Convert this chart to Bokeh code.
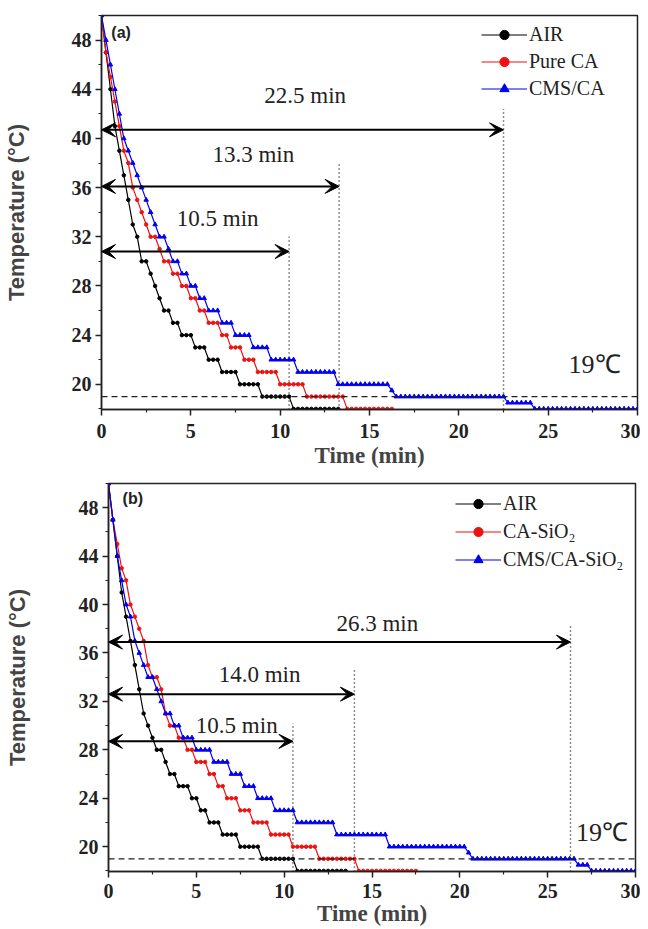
from bokeh.plotting import figure
from bokeh.models import (ColumnDataSource, Range1d, FixedTicker, Arrow, VeeHead,
                          Legend, LegendItem, Span)
from bokeh.layouts import column
from bokeh.embed import file_html
from bokeh.resources import INLINE
from bokeh.core.properties import value

# ---------------- data ----------------
SAMPLE_MIN = 0.25  # one reading every 15 s

# panel (a)
AIR_A = [50, 47, 44, 41, 39, 37, 35, 33, 32, 30,
         30, 29, 28, 27, 26, 26, 25, 25, 24, 24,
         24, 23, 23, 23, 22, 22, 22, 21, 21, 21,
         21, 20, 20, 20, 20, 20, 19, 19, 19, 19,
         19, 19, 19, 18, 18, 18, 18, 18, 18, 18,
         18, 18, 18, 18]
PURE_CA_A = [50, 47, 45, 43, 41, 39, 38, 36, 35, 34,
             33, 32, 32, 31, 30, 30, 29, 29, 28, 28,
             27, 27, 26, 26, 25, 25, 25, 24, 24, 23,
             23, 23, 22, 22, 22, 21, 21, 21, 21, 21,
             20, 20, 20, 20, 20, 20, 19, 19, 19, 19,
             19, 19, 19, 19, 19, 18, 18, 18, 18, 18,
             18, 18, 18, 18, 18, 18]
CMS_CA_A = [50, 48, 46, 44, 42, 40, 39, 38, 37, 36,
            35, 34, 33, 32, 32, 31, 30, 30, 29, 29,
            28, 28, 27, 27, 26, 26, 26, 25, 25, 25,
            24, 24, 24, 24, 23, 23, 23, 23, 22, 22,
            22, 22, 22, 22, 21, 21, 21, 21, 21, 21,
            21, 21, 21, 20, 20, 20, 20, 20, 20, 20,
            20, 20, 20, 20, 20, 19.5, 19, 19, 19, 19,
            19, 19, 19, 19, 19, 19, 19, 19, 19, 19,
            19, 19, 19, 19, 19, 19, 19, 19, 19, 19,
            19, 18.5, 18.5, 18.5, 18.5, 18.5, 18.5, 18, 18, 18,
            18, 18, 18, 18, 18, 18, 18, 18, 18, 18,
            18, 18, 18, 18, 18, 18, 18, 18, 18, 18,
            18]

# panel (b)
AIR_B = [50, 47, 44, 41, 39, 37, 35, 33, 31, 30,
         29, 28, 28, 27, 26, 26, 25, 25, 25, 24,
         24, 23, 23, 22, 22, 22, 21, 21, 21, 21,
         20, 20, 20, 20, 20, 19, 19, 19, 19, 19,
         19, 19, 19, 18, 18, 18, 18, 18, 18, 18,
         18, 18, 18, 18, 18]
CA_SIO2_B = [50, 47, 45, 43, 42, 40, 39, 38, 37, 35,
             34, 34, 33, 31, 30, 30, 29, 29, 28, 28,
             27, 27, 27, 26, 26, 25, 25, 24, 24, 24,
             23, 23, 23, 22, 22, 22, 22, 21, 21, 21,
             21, 21, 20, 20, 20, 20, 20, 20, 19, 19,
             19, 19, 19, 19, 19, 19, 19, 18, 18, 18,
             18, 18, 18, 18, 18, 18, 18, 18, 18, 18,
             18]
CMS_CA_SIO2_B = [50, 47, 44, 42, 40, 39, 37, 36, 35, 34,
                 34, 33, 32, 31, 31, 30, 30, 29, 29, 29,
                 28, 28, 28, 28, 27, 27, 27, 27, 26, 26,
                 26, 25, 25, 25, 24, 24, 24, 24, 23, 23,
                 23, 23, 23, 22, 22, 22, 22, 22, 22, 22,
                 22, 22, 21, 21, 21, 21, 21, 21, 21, 21,
                 21, 21, 21, 21, 20, 20, 20, 20, 20, 20,
                 20, 20, 20, 20, 20, 20, 20, 20, 20, 20,
                 20, 20, 19.5, 19, 19, 19, 19, 19, 19, 19,
                 19, 19, 19, 19, 19, 19, 19, 19, 19, 19,
                 19, 19, 19, 19, 19, 19, 19, 18.5, 18.5, 18.5,
                 18, 18, 18, 18, 18, 18, 18, 18, 18, 18,
                 18]

X_TICKS = [0, 5, 10, 15, 20, 25, 30]
X_MINOR = [2.5, 7.5, 12.5, 17.5, 22.5, 27.5]
Y_TICKS = [20, 24, 28, 32, 36, 40, 44, 48]
Y_MINOR = [18, 22, 26, 30, 34, 38, 42, 46, 50]
THRESHOLD_C = 19

# annotations panel (a)
A_DURATION = [10.5, 13.3, 22.5]
A_ARROW_Y = [30.8, 36.1, 40.7]
A_DOT_TOP = [32.0, 38.0, 42.4]
A_LABEL = ["10.5 min", "13.3 min", "22.5 min"]
A_LABEL_X = [6.5, 8.5, 11.4]
A_LABEL_Y = [33.5, 38.7, 43.5]

# annotations panel (b)
B_DURATION = [10.5, 14.0, 26.3]
B_ARROW_Y = [28.7, 32.6, 36.9]
B_DOT_TOP = [30.2, 34.6, 38.2]
B_LABEL = ["10.5 min", "14.0 min", "26.3 min"]
B_LABEL_X = [7.3, 8.6, 15.3]
B_LABEL_Y = [30.0, 34.2, 38.4]

SERIES_A = [("AIR", AIR_A), ("Pure CA", PURE_CA_A), ("CMS/CA", CMS_CA_A)]
SERIES_B = [("AIR", AIR_B), ("CA-SiO\u2082", CA_SIO2_B), ("CMS/CA-SiO\u2082", CMS_CA_SIO2_B)]
COLORS = ["#000000", "#ee1111", "#0000ee"]
MARKERS = ["circle", "circle", "triangle"]

SERIF = "Liberation Serif"
SANS = "Liberation Sans"


def make_panel(series, dur, arrow_y, dot_top, labels, lab_x, lab_y, tag, tag_x, tag_y,
               deg_x, deg_y, width, height, borders, legend_xy, legend_spacing,
               label_standoff, title_standoff, ylabel_standoff):
    p = figure(width=width, height=height, output_backend="svg", toolbar_location=None,
               x_range=Range1d(0, 30), y_range=Range1d(17.95, 50),
               min_border_left=borders[0], min_border_right=borders[1],
               min_border_top=borders[2], min_border_bottom=borders[3])
    p.grid.visible = False
    p.outline_line_color = "#222222"
    p.outline_line_width = 1.5
    p.background_fill_color = "white"
    p.border_fill_color = "white"

    p.xaxis.ticker = FixedTicker(ticks=X_TICKS, minor_ticks=X_MINOR)
    p.yaxis.ticker = FixedTicker(ticks=Y_TICKS, minor_ticks=Y_MINOR)
    for ax in (p.xaxis[0], p.yaxis[0]):
        ax.axis_line_width = 1.5
        ax.axis_line_color = "#222222"
        ax.major_tick_line_width = 1.5
        ax.major_tick_line_color = "#222222"
        ax.minor_tick_line_color = "#222222"
        ax.minor_tick_line_width = 1.2
        ax.major_tick_in = 0
        ax.major_tick_out = 6
        ax.minor_tick_in = 0
        ax.minor_tick_out = 3
        ax.major_label_text_font = SERIF
        ax.major_label_text_font_style = "bold"
        ax.major_label_text_font_size = "20px"
        ax.major_label_text_color = "#222222"
    p.xaxis.major_label_standoff = label_standoff
    p.yaxis.major_label_standoff = 4
    p.xaxis.axis_label = "Time (min)"
    p.xaxis.axis_label_text_font = SERIF
    p.xaxis.axis_label_text_font_style = "bold"
    p.xaxis.axis_label_text_font_size = "23px"
    p.xaxis.axis_label_standoff = title_standoff
    p.yaxis.axis_label = "Temperature (\u00b0C)"
    p.yaxis.axis_label_text_font = SANS
    p.yaxis.axis_label_text_font_style = "bold"
    p.yaxis.axis_label_text_font_size = "22px"
    p.yaxis.axis_label_standoff = ylabel_standoff

    # threshold line
    p.add_layout(Span(location=THRESHOLD_C, dimension="width", line_color="#222222",
                      line_dash="6 4", line_width=1.2))
    # vertical dotted lines
    dsrc = ColumnDataSource(dict(x=dur, y0=[17.95] * len(dur), y1=dot_top))
    p.segment(x0="x", y0="y0", x1="x", y1="y1", source=dsrc, line_color="#222222",
              line_dash="1 3", line_width=1.5)

    items = []
    for (name, vals), col, mk in zip(series, COLORS, MARKERS):
        t = [i * SAMPLE_MIN for i in range(len(vals))]
        src = ColumnDataSource(dict(t=t, T=vals))
        r1 = p.line("t", "T", source=src, line_color=col, line_width=1.2)
        r2 = p.scatter("t", "T", source=src, marker=mk, size=3.5 if mk == "circle" else 4.5,
                       fill_color=col, line_color=col)
        items.append(LegendItem(label=name, renderers=[r1, r2]))

    # arrows
    asrc = ColumnDataSource(dict(x0=[0] * len(dur), x1=dur, y=arrow_y))
    p.add_layout(Arrow(x_start="x0", y_start="y", x_end="x1", y_end="y", source=asrc,
                       line_width=2, line_color="black",
                       start=VeeHead(size=14, fill_color="black", line_color="black"),
                       end=VeeHead(size=14, fill_color="black", line_color="black")))
    lsrc = ColumnDataSource(dict(x=lab_x, y=lab_y, s=labels))
    p.text("x", "y", text="s", source=lsrc, text_font=value(SERIF), text_font_size="23px",
           text_align="center", text_baseline="middle", text_color="#222222")

    p.text(x=[tag_x], y=[tag_y], text=[tag], text_font=value(SANS), text_font_style="bold",
           text_font_size="16px", text_align="left", text_baseline="middle",
           text_color="#222222")
    p.text(x=[deg_x], y=[deg_y], text=["19\u2103"], text_font=value(SERIF),
           text_font_size="26px", text_align="center", text_baseline="middle",
           text_color="#222222")

    leg = Legend(items=items, location=legend_xy, border_line_color=None,
                 background_fill_alpha=0, label_text_font=SERIF, label_text_font_size="20px",
                 label_text_color="#222222", glyph_width=46, glyph_height=23,
                 label_height=23, spacing=legend_spacing, padding=2, margin=0,
                 label_standoff=2)
    p.add_layout(leg)
    return p


p1 = make_panel(SERIES_A, A_DURATION, A_ARROW_Y, A_DOT_TOP, A_LABEL, A_LABEL_X, A_LABEL_Y,
                "(a)", 0.55, 48.6, 27.6, 21.6, 640, 471, (100, 3, 15, 62), (380, 309), 4,
                8, 2, 40)
p2 = make_panel(SERIES_B, B_DURATION, B_ARROW_Y, B_DOT_TOP, B_LABEL, B_LABEL_X, B_LABEL_Y,
                "(b)", 0.8, 48.8, 28.1, 21.2, 640, 457, (108, 5, 12, 57), (347, 300), 5,
                6, 0, 46)

layout = column(column(p1), column(p2), spacing=0)
open("out.html", "w").write(file_html(layout, INLINE))
